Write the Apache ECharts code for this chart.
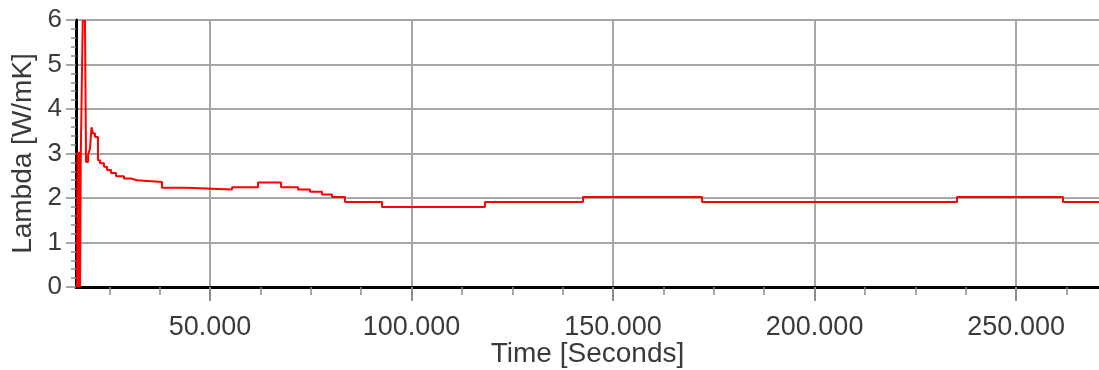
<!DOCTYPE html>
<html>
<head>
<meta charset="utf-8">
<script src="https://cdn.jsdelivr.net/npm/echarts@6/dist/echarts.min.js"></script>
<style>
  html, body { margin: 0; padding: 0; background: #ffffff; }
  #chart { width: 1099px; height: 370px; }
</style>
</head>
<body>
<div id="chart"></div>
<script>
// Measurement time stamps (seconds) and the thermal conductivity held from each one
const times = [
  17000, 17150, 17350, 17550, 17750, 17950, 18420, 18990, 19240, 19740,
  20230, 20600, 20970, 21470, 22200, 22700, 23700, 24450, 25440, 26680,
  28660, 30400, 31890, 38090, 44050, 55460, 61910, 67620, 71830, 74810,
  77790, 80270, 83490, 92670, 118230, 142540, 172070, 235330, 261630, 270560
];
const lambdas = [
  0, 3.04, 0, 3.04, 0, 3.04, 5.98, 5.81, 2.81, 2.96,
  3.12, 3.59, 3.45, 3.37, 2.85, 2.78, 2.70, 2.63, 2.56, 2.49,
  2.44, 2.40, 2.36, 2.23, 2.19, 2.24, 2.35, 2.24, 2.19, 2.14,
  2.08, 2.02, 1.91, 1.80, 1.91, 2.02, 1.91, 2.02, 1.91, 1.91
];

// Axis range and tick positions
const timeMin = 16750;
const timeMax = 270560;
const timeMajorTicks = [50000, 100000, 150000, 200000, 250000];
const timeMinorTicks = [
  25000, 37500, 62500, 75000, 87500, 112500, 125000, 137500,
  162500, 175000, 187500, 212500, 225000, 237500, 262500
];
const lambdaMin = 0;
const lambdaMax = 6;

// "50000" -> "50.000"
function groupThousands(v) {
  return String(Math.round(v)).replace(/\B(?=(\d{3})+(?!\d))/g, '.');
}

const points = times.map((t, i) => [t, lambdas[i]]);

const textColor = '#3a3a3a';
const fontFamily = '"Liberation Sans", Arial, sans-serif';
const gridColor = '#a6a6a6';

const chart = echarts.init(document.getElementById('chart'), null, { renderer: 'canvas' });
chart.setOption({
  animation: false,
  backgroundColor: '#ffffff',
  grid: {
    left: 76, right: 0, top: 20, bottom: 83,
    containLabel: false, outerBoundsMode: 'none'
  },
  xAxis: [
    {
      type: 'value',
      min: timeMin,
      max: timeMax,
      name: 'Time [Seconds]',
      nameLocation: 'middle',
      nameGap: 53,
      nameMoveOverlap: false,
      nameTextStyle: { color: textColor, fontSize: 28, fontFamily: fontFamily },
      axisLine: { show: true, onZero: false, lineStyle: { color: '#000000', width: 3 } },
      axisTick: {
        show: true, length: 14, customValues: timeMajorTicks,
        lineStyle: { color: '#8c8c8c', width: 2 }
      },
      axisLabel: {
        show: true, customValues: timeMajorTicks, margin: 27,
        color: textColor, fontSize: 27, fontFamily: fontFamily,
        formatter: groupThousands
      },
      splitLine: { show: true, lineStyle: { color: gridColor, width: 2 } }
    },
    {
      type: 'value',
      min: timeMin,
      max: timeMax,
      position: 'bottom',
      axisLine: { show: false },
      axisTick: {
        show: true, length: 8, customValues: timeMinorTicks,
        lineStyle: { color: '#8c8c8c', width: 1.5 }
      },
      axisLabel: { show: false },
      splitLine: { show: false }
    }
  ],
  yAxis: {
    type: 'value',
    min: lambdaMin,
    max: lambdaMax,
    interval: 1,
    name: 'Lambda [W/mK]',
    nameLocation: 'middle',
    nameGap: 39,
    nameMoveOverlap: false,
    nameTextStyle: { color: textColor, fontSize: 28, fontFamily: fontFamily },
    axisLine: { show: true, lineStyle: { color: '#000000', width: 3 } },
    axisTick: { show: true, length: 10, lineStyle: { color: '#8c8c8c', width: 1.5 } },
    minorTick: { show: true, splitNumber: 5, length: 5, lineStyle: { color: '#8c8c8c', width: 1.5 } },
    axisLabel: { margin: 14, color: textColor, fontSize: 26, fontFamily: fontFamily },
    splitLine: { show: true, lineStyle: { color: gridColor, width: 2 } }
  },
  series: [
    {
      type: 'line',
      xAxisIndex: 0,
      step: 'end',
      data: points,
      showSymbol: false,
      symbol: 'none',
      clip: true,
      lineStyle: { color: '#ff0000', width: 2 },
      z: 5
    }
  ]
});
</script>
</body>
</html>
